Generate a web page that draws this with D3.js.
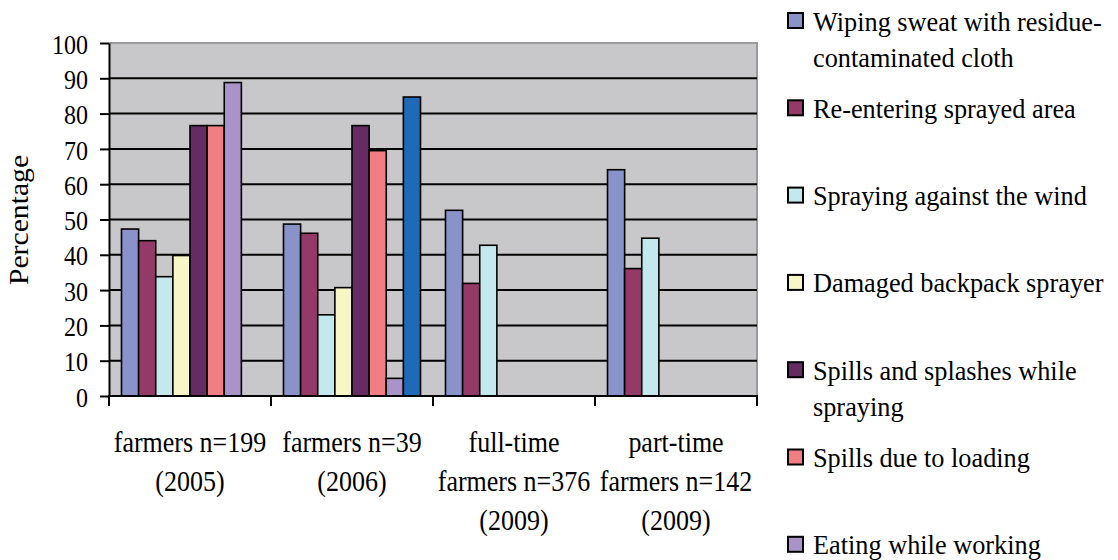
<!DOCTYPE html>
<html>
<head>
<meta charset="utf-8">
<script src="https://cdn.jsdelivr.net/npm/d3@7"></script>
<style>
  html, body { margin: 0; padding: 0; background: #ffffff; }
  svg text { font-family: 'Liberation Serif', 'DejaVu Serif', serif; }
</style>
</head>
<body>
<svg id="chart" width="1118" height="560"></svg>
<script>
// Survey groups along the x axis (each label split into lines)
const categories = ["g2005", "g2006", "full2009", "part2009"];
const categoryLines = [
  ["farmers n=199", "(2005)"],
  ["farmers n=39", "(2006)"],
  ["full-time", "farmers n=376", "(2009)"],
  ["part-time", "farmers n=142", "(2009)"]
];

// Practice series shown in the legend
const seriesLabels = [
  ["Wiping sweat with residue-", "contaminated cloth"],
  ["Re-entering sprayed area"],
  ["Spraying against the wind"],
  ["Damaged backpack sprayer"],
  ["Spills and splashes while", "spraying"],
  ["Spills due to loading"],
  ["Eating while working"]
];
const seriesKeys = ["s1", "s2", "s3", "s4", "s5", "s6", "s7", "s8"];
const seriesColors = ["#8A93C9", "#943A69", "#C3E8EE", "#F6F6C6", "#652C63", "#F17E82", "#A993C8", "#1F6AB6"];

// Percentage per series, one entry per survey group (null = not reported)
const s1 = [47.3, 48.7, 52.6, 64.1];
const s2 = [44.0, 46.1, 31.9, 36.1];
const s3 = [33.8, 23.0, 42.7, 44.7];
const s4 = [39.8, 30.7, null, null];
const s5 = [76.6, 76.6, null, null];
const s6 = [76.6, 69.5, null, null];
const s7 = [88.8, 5.0, null, null];
const s8 = [null, 84.7, null, null];
const seriesValues = [s1, s2, s3, s4, s5, s6, s7, s8];

const yTicks = [0, 10, 20, 30, 40, 50, 60, 70, 80, 90, 100];
const yTitle = "Percentage";

const FONT = "'Liberation Serif', 'DejaVu Serif', serif";
const svg = d3.select("#chart");
const plot = { left: 109, right: 757, top: 43, bottom: 396 };

const x0 = d3.scaleBand().domain(categories).range([plot.left, plot.right]).padding(0);
const x1 = d3.scaleBand().domain(seriesKeys).range([0, x0.bandwidth()]).paddingInner(0).paddingOuter(0.73);
const y = d3.scaleLinear().domain([0, 100]).range([plot.bottom, plot.top]);

// Plot background
svg.append("rect")
  .attr("x", plot.left).attr("y", plot.top)
  .attr("width", plot.right - plot.left).attr("height", plot.bottom - plot.top)
  .attr("fill", "#C8C8CA");

// Top and right frame
svg.append("path")
  .attr("d", `M${plot.left},${y(100)}H${plot.right}V${plot.bottom}`)
  .attr("fill", "none").attr("stroke", "#9A9A9C").attr("stroke-width", 2);

// Horizontal gridlines
svg.append("g").selectAll("line")
  .data(yTicks.filter(v => v > 0 && v < 100))
  .join("line")
  .attr("x1", plot.left).attr("x2", plot.right)
  .attr("y1", d => y(d)).attr("y2", d => y(d))
  .attr("stroke", "#000").attr("stroke-width", 2);

// Bars
const rows = [];
categories.forEach((c, ci) => {
  seriesKeys.forEach((k, si) => {
    const v = seriesValues[si][ci];
    if (v != null) rows.push({ c, k, si, v });
  });
});
svg.append("g").selectAll("rect")
  .data(rows)
  .join("rect")
  .attr("x", d => x0(d.c) + x1(d.k))
  .attr("y", d => y(d.v))
  .attr("width", x1.bandwidth())
  .attr("height", d => y(0) - y(d.v))
  .attr("fill", d => seriesColors[d.si])
  .attr("stroke", "#000").attr("stroke-width", 1.6);

// Left axis
const yAxis = svg.append("g")
  .attr("transform", `translate(${plot.left},0)`)
  .call(d3.axisLeft(y).tickValues(yTicks).tickSize(9).tickPadding(12).tickSizeOuter(0));
yAxis.attr("font-family", FONT);
yAxis.select(".domain").attr("stroke", "#000").attr("stroke-width", 2);
yAxis.selectAll(".tick line").attr("stroke", "#000").attr("stroke-width", 2);
yAxis.selectAll(".tick text")
  .attr("font-family", FONT)
  .attr("font-size", 24)
  .attr("fill", "#000")
  .attr("dy", "0.36em")
  .attr("transform", "scale(1,1.17)");

// Bottom axis with ticks between the groups
const bounds = categories.map(c => x0(c)).concat([x0(categories[categories.length - 1]) + x0.bandwidth()]);
const xAxis = svg.append("g");
xAxis.append("line")
  .attr("x1", plot.left - 1).attr("x2", plot.right + 1)
  .attr("y1", plot.bottom).attr("y2", plot.bottom)
  .attr("stroke", "#000").attr("stroke-width", 2);
xAxis.selectAll("line.tk")
  .data(bounds)
  .join("line").attr("class", "tk")
  .attr("x1", d => d).attr("x2", d => d)
  .attr("y1", plot.bottom).attr("y2", plot.bottom + 10)
  .attr("stroke", "#000").attr("stroke-width", 2);

// Category labels
const catG = svg.append("g");
categories.forEach((c, ci) => {
  const cx = x0(c) + x0.bandwidth() / 2;
  categoryLines[ci].forEach((line, li) => {
    catG.append("text")
      .attr("transform", `translate(${cx},${452 + li * 39}) scale(1,1.12)`)
      .attr("text-anchor", "middle")
      .attr("font-family", FONT)
      .attr("font-size", 26)
      .attr("fill", "#000")
      .text(line);
  });
});

// Y axis title
svg.append("text")
  .attr("transform", "translate(28,220) rotate(-90) scale(1.1,1)")
  .attr("text-anchor", "middle")
  .attr("font-family", FONT)
  .attr("font-size", 27)
  .attr("fill", "#000")
  .text(yTitle);

// Legend
const legend = svg.append("g");
seriesLabels.forEach((lines, i) => {
  const base = 30.5 + i * 87.3;
  legend.append("rect")
    .attr("x", 788).attr("y", base - 17.5)
    .attr("width", 15).attr("height", 15)
    .attr("fill", seriesColors[i])
    .attr("stroke", "#000").attr("stroke-width", 2);
  lines.forEach((line, li) => {
    legend.append("text")
      .attr("transform", `translate(813,${base + li * 36.5}) scale(1,1.05)`)
      .attr("font-family", FONT)
      .attr("font-size", 26.3)
      .attr("fill", "#000")
      .text(line);
  });
});
</script>
</body>
</html>
